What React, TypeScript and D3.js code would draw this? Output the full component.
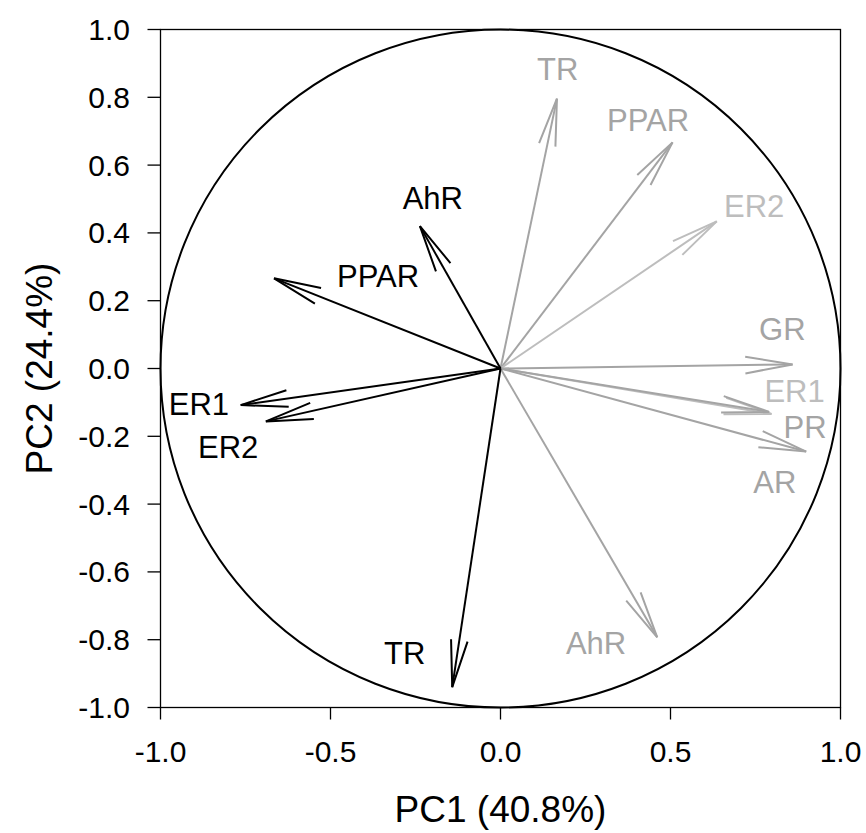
import React from "react";
import * as d3 from "d3";

// Loadings: group A (black)
const blackNames = ["AhR", "PPAR", "ER1", "ER2", "TR"];
const blackPC1 = [-0.237, -0.666, -0.764, -0.69, -0.142];
const blackPC2 = [0.42, 0.266, -0.108, -0.156, -0.94];
const blackLabelX = [-0.199, -0.36, -0.887, -0.801, -0.282];
const blackLabelY = [0.471, 0.241, -0.137, -0.265, -0.872];

// Loadings: group B (grey)
const greyNames = ["TR", "PPAR", "ER2", "GR", "ER1", "PR", "AR", "AhR"];
const greyPC1 = [0.166, 0.506, 0.636, 0.859, 0.797, 0.79, 0.899, 0.461];
const greyPC2 = [0.796, 0.667, 0.434, 0.012, -0.134, -0.128, -0.245, -0.793];
const greyLabelX = [0.168, 0.434, 0.746, 0.829, 0.865, 0.896, 0.807, 0.281];
const greyLabelY = [0.851, 0.7, 0.448, 0.084, -0.098, -0.206, -0.366, -0.842];
const greyShade = ["#a4a4a4", "#a4a4a4", "#bdbdbd", "#a4a4a4", "#bdbdbd", "#a4a4a4", "#a4a4a4", "#a4a4a4"];

const xTicks = [-1, -0.5, 0, 0.5, 1];
const yTicks = [-1, -0.8, -0.6, -0.4, -0.2, 0, 0.2, 0.4, 0.6, 0.8, 1];

const W = 866;
const H = 833;
const FONT = "'Liberation Sans', Arial, sans-serif";

const fmt = (t: number) => (Math.abs(t) < 1e-9 ? 0 : t).toFixed(1);

export default function App() {
  const x = d3.scaleLinear().domain([-1, 1]).range([160.5, 840.5]);
  const y = d3.scaleLinear().domain([-1, 1]).range([707.5, 29.5]);
  const x0 = x(0);
  const y0 = y(0);
  const headLen = 48;
  const headAng = (10 * Math.PI) / 180;

  const arrow = (px: number, py: number, color: string, key: string) => {
    const tx = x(px);
    const ty = y(py);
    const a = Math.atan2(y0 - ty, x0 - tx);
    const b1 = [tx + headLen * Math.cos(a + headAng), ty + headLen * Math.sin(a + headAng)];
    const b2 = [tx + headLen * Math.cos(a - headAng), ty + headLen * Math.sin(a - headAng)];
    const line = d3.line();
    return (
      <g key={key} stroke={color} strokeWidth={2} fill="none" strokeLinecap="butt" strokeLinejoin="miter">
        <path d={line([[x0, y0], [tx, ty]]) || ""} />
        <path d={line([[b1[0], b1[1]], [tx, ty], [b2[0], b2[1]]]) || ""} />
      </g>
    );
  };

  return (
    <svg width={W} height={H} style={{ position: "absolute", left: 0, top: 0, background: "#fff" }}>
      <rect x={0} y={0} width={W} height={H} fill="#fff" />
      {/* unit circle */}
      <ellipse cx={x0} cy={y0} rx={x(1) - x0} ry={y0 - y(1)} fill="none" stroke="#000" strokeWidth={2} />
      {/* grey arrows */}
      {greyNames.map((n, i) => arrow(greyPC1[i], greyPC2[i], greyShade[i], "g" + i))}
      {/* black arrows */}
      {blackNames.map((n, i) => arrow(blackPC1[i], blackPC2[i], "#000", "b" + i))}
      {/* labels */}
      <g fontFamily={FONT} fontSize={31} textAnchor="middle">
        {greyNames.map((n, i) => (
          <text key={"gl" + i} x={x(greyLabelX[i])} y={y(greyLabelY[i])} fill={greyShade[i]}>{n}</text>
        ))}
        {blackNames.map((n, i) => (
          <text key={"bl" + i} x={x(blackLabelX[i])} y={y(blackLabelY[i])} fill="#000">{n}</text>
        ))}
      </g>
      {/* frame */}
      <rect x={x(-1)} y={y(1)} width={x(1) - x(-1)} height={y(-1) - y(1)} fill="none" stroke="#000" strokeWidth={1.3} />
      {/* ticks */}
      <g stroke="#000" strokeWidth={1.3}>
        {xTicks.map((t) => (
          <line key={"xt" + t} x1={x(t)} x2={x(t)} y1={y(-1)} y2={y(-1) + 12} />
        ))}
        {yTicks.map((t) => (
          <line key={"yt" + t} x1={x(-1) - 13} x2={x(-1)} y1={y(t)} y2={y(t)} />
        ))}
      </g>
      <g fontFamily={FONT} fontSize={30} fill="#000">
        {xTicks.map((t) => (
          <text key={"xl" + t} x={x(t)} y={762} textAnchor="middle">{fmt(t)}</text>
        ))}
        {yTicks.map((t) => (
          <text key={"yl" + t} x={130} y={y(t) + 10.5} textAnchor="end">{fmt(t)}</text>
        ))}
      </g>
      <text x={x0} y={822} textAnchor="middle" fontFamily={FONT} fontSize={37} fill="#000">PC1 (40.8%)</text>
      <text transform={`translate(52,${y0}) rotate(-90)`} textAnchor="middle" fontFamily={FONT} fontSize={37} fill="#000">PC2 (24.4%)</text>
    </svg>
  );
}
